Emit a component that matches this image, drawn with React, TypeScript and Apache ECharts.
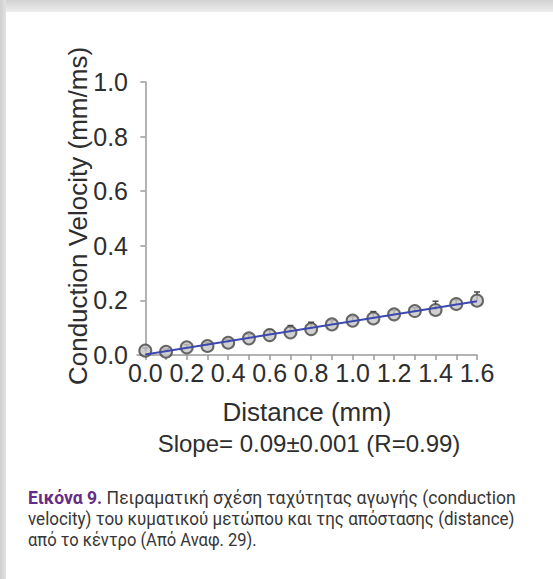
import React, { useEffect, useRef } from "react";
import * as echarts from "echarts";

const distances = [0, 0.1, 0.2, 0.3, 0.4, 0.5, 0.6, 0.7, 0.8, 0.9, 1.0, 1.1, 1.2, 1.3, 1.4, 1.5, 1.6];
const velocity = [0.016, 0.012, 0.028, 0.033, 0.045, 0.061, 0.073, 0.083, 0.095, 0.112, 0.126, 0.134, 0.149, 0.161, 0.165, 0.187, 0.199];
const errorUp = [0.01, 0.01, 0.01, 0.012, 0.012, 0.015, 0.02, 0.025, 0.025, 0.015, 0.015, 0.025, 0.015, 0.012, 0.032, 0.015, 0.032];
const fitX = [0, 1.6];
const fitY = [0.002, 0.197];
const xTickValues = [0, 0.1, 0.2, 0.3, 0.4, 0.5, 0.6, 0.7, 0.8, 0.9, 1.0, 1.1, 1.2, 1.3, 1.4, 1.5, 1.6];
const xLabelValues = [0, 0.2, 0.4, 0.6, 0.8, 1.0, 1.2, 1.4, 1.6];

const yAxisName = "Conduction Velocity (mm/ms)";
const xAxisName = "Distance (mm)";
const slopeText = "Slope= 0.09\u00B10.001 (R=0.99)";
const captionBold = "Εικόνα 9.";
const captionLine1 = " Πειραματική σχέση ταχύτητας αγωγής (conduction";
const captionLine2 = "velocity) του κυματικού μετώπου και της απόστασης (distance)";
const captionLine3 = "από το κέντρο (Από Αναφ. 29).";

const CAP_FONT = "Roboto";
const CAP_SIZE = 19;

function measure(text: string, font: string): number {
  const c = document.createElement("canvas");
  const ctx = c.getContext("2d");
  if (!ctx) return text.length * 8;
  ctx.font = font;
  return ctx.measureText(text).width;
}

export default function App() {
  const ref = useRef<HTMLDivElement>(null);
  useEffect(() => {
    if (!ref.current) return;
    const chart = echarts.init(ref.current, null, { renderer: "svg" });

    const wBold = measure(captionBold, `bold ${CAP_SIZE}px ${CAP_FONT}`);
    const w1 = measure(captionLine1, `${CAP_SIZE}px ${CAP_FONT}`);
    const w2 = measure(captionLine2, `${CAP_SIZE}px ${CAP_FONT}`);
    const w3 = measure(captionLine3, `${CAP_SIZE}px ${CAP_FONT}`);
    const s1 = 488 / (wBold + w1);
    const s2 = 487 / w2;
    const s3 = 229 / w3;

    const textColor = "#2e2e2e";
    const axisColor = "#9a9a9a";
    const capColor = "#363636";
    const purple = "#662d86";

    const scatterData = distances.map((d, i) => [d, velocity[i]]);
    const errData = distances.map((d, i) => [d, velocity[i], errorUp[i]]);
    const fitData = fitX.map((d, i) => [d, fitY[i]]);

    chart.setOption({
      animation: false,
      backgroundColor: "#ffffff",
      grid: { left: 137, right: 76, top: 82, bottom: 224, containLabel: false },
      xAxis: {
        type: "value",
        min: -0.04,
        max: 1.6,
        axisLine: { show: true, lineStyle: { color: axisColor, width: 1.5 } },
        axisTick: { show: true, length: 5, customValues: xTickValues, lineStyle: { color: axisColor, width: 1.5 } },
        axisLabel: {
          customValues: xLabelValues,
          margin: 5,
          fontSize: 25,
          color: textColor,
          fontFamily: "Liberation Sans",
          formatter: (v: number) => v.toFixed(1),
        },
        splitLine: { show: false },
      },
      yAxis: {
        type: "value",
        min: 0,
        max: 1.0,
        interval: 0.2,
        axisLine: { show: true, lineStyle: { color: axisColor, width: 1.5 } },
        axisTick: { show: true, length: 5, lineStyle: { color: axisColor, width: 1.5 } },
        axisLabel: {
          margin: 9,
          fontSize: 25,
          color: textColor,
          fontFamily: "Liberation Sans",
          formatter: (v: number) => v.toFixed(1),
        },
        splitLine: { show: false },
      },
      series: [
        {
          type: "custom",
          z: 1,
          data: errData,
          renderItem: (params: any, api: any) => {
            const x = api.value(0);
            const y = api.value(1);
            const e = api.value(2);
            const p0 = api.coord([x, y]);
            const p1 = api.coord([x, y + e]);
            const st = { stroke: "#4a4a4a", lineWidth: 1.5 };
            return {
              type: "group",
              children: [
                { type: "line", shape: { x1: p0[0], y1: p0[1], x2: p1[0], y2: p1[1] }, style: st },
                { type: "line", shape: { x1: p1[0] - 3, y1: p1[1], x2: p1[0] + 3, y2: p1[1] }, style: st },
              ],
            };
          },
        },
        {
          type: "scatter",
          z: 2,
          data: scatterData,
          symbol: "circle",
          symbolSize: 12,
          itemStyle: { color: "#c4c4c4", borderColor: "#454545", borderWidth: 2 },
        },
        {
          type: "line",
          z: 3,
          data: fitData,
          symbol: "none",
          lineStyle: { color: "#3b48b0", width: 2 },
        },
      ],
      graphic: [
        {
          type: "rect",
          z: -10,
          shape: { x: 0, y: 0, width: 553, height: 12 },
          style: {
            fill: new echarts.graphic.LinearGradient(0, 0, 0, 1, [
              { offset: 0, color: "#d2d2d2" },
              { offset: 1, color: "#ededed" },
            ]),
          },
        },
        {
          type: "rect",
          z: -10,
          shape: { x: 0, y: 0, width: 6, height: 579 },
          style: {
            fill: new echarts.graphic.LinearGradient(0, 0, 1, 0, [
              { offset: 0, color: "#cfcfcf" },
              { offset: 1, color: "#e2e2e2" },
            ]),
          },
        },
        {
          type: "text",
          x: 78,
          y: 216,
          rotation: Math.PI / 2,
          style: {
            text: yAxisName,
            fontSize: 26,
            fontFamily: "Liberation Sans",
            fill: textColor,
            align: "center",
            verticalAlign: "middle",
          },
        },
        {
          type: "text",
          x: 307,
          y: 412,
          style: {
            text: xAxisName,
            fontSize: 26,
            fontFamily: "Liberation Sans",
            fill: textColor,
            align: "center",
            verticalAlign: "middle",
          },
        },
        {
          type: "text",
          x: 309,
          y: 443,
          style: {
            text: slopeText,
            fontSize: 24,
            fontFamily: "Liberation Sans",
            fill: textColor,
            align: "center",
            verticalAlign: "middle",
          },
        },
        {
          type: "text",
          x: 28,
          y: 497,
          scaleX: s1,
          style: {
            text: captionBold,
            fontSize: CAP_SIZE,
            fontWeight: "bold",
            fontFamily: CAP_FONT,
            fill: purple,
            align: "left",
            verticalAlign: "middle",
          },
        },
        {
          type: "text",
          x: 28 + wBold * s1,
          y: 497,
          scaleX: s1,
          style: {
            text: captionLine1,
            fontSize: CAP_SIZE,
            fontFamily: CAP_FONT,
            fill: capColor,
            align: "left",
            verticalAlign: "middle",
          },
        },
        {
          type: "text",
          x: 28,
          y: 518,
          scaleX: s2,
          style: {
            text: captionLine2,
            fontSize: CAP_SIZE,
            fontFamily: CAP_FONT,
            fill: capColor,
            align: "left",
            verticalAlign: "middle",
          },
        },
        {
          type: "text",
          x: 28,
          y: 539,
          scaleX: s3,
          style: {
            text: captionLine3,
            fontSize: CAP_SIZE,
            fontFamily: CAP_FONT,
            fill: capColor,
            align: "left",
            verticalAlign: "middle",
          },
        },
      ],
    });

    return () => chart.dispose();
  }, []);

  return (
    <div
      ref={ref}
      style={{ position: "absolute", left: 0, top: 0, width: 553, height: 579 }}
    />
  );
}
